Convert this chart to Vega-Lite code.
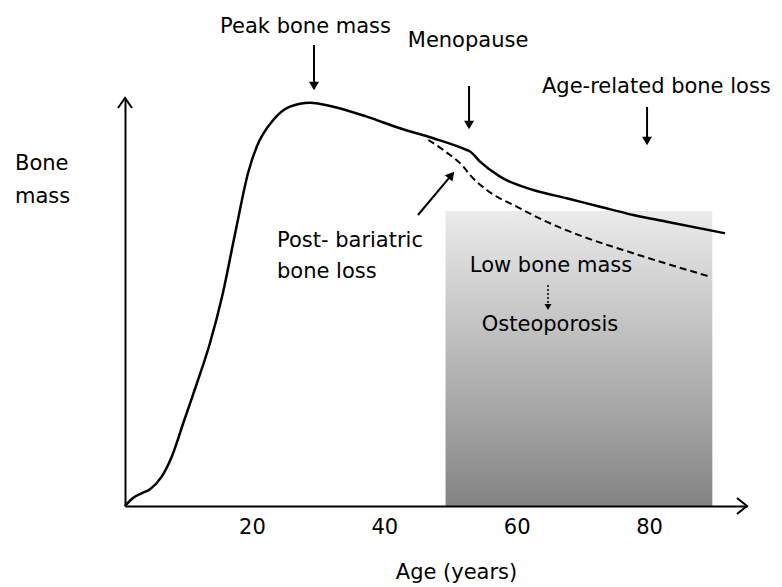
{
  "$schema": "https://vega.github.io/schema/vega-lite/v6.json",
  "width": 622,
  "height": 408,
  "autosize": "none",
  "padding": {"left": 125, "top": 98, "right": 35, "bottom": 81},
  "background": "white",
  "config": {"view": {"stroke": null}, "text": {"font": "DejaVu Sans", "fontSize": 21, "color": "black"}},
  "datasets": {
    "solid": [
      {"age": 0.83, "mass": 0}, {"age": 2.04, "mass": 2}, {"age": 3.35, "mass": 3.18}, {"age": 4.61, "mass": 4.18},
      {"age": 6.37, "mass": 7.33}, {"age": 7.89, "mass": 12.33}, {"age": 9.74, "mass": 21.25}, {"age": 11.71, "mass": 30.75},
      {"age": 13.67, "mass": 40.75}, {"age": 15.48, "mass": 52.25}, {"age": 17.45, "mass": 68}, {"age": 19.46, "mass": 83.5},
      {"age": 20.73, "mass": 89.83},
      {"age": 23.23, "mass": 96.5}, {"age": 25.75, "mass": 99.83}, {"age": 28.78, "mass": 100.83}, {"age": 32.3, "mass": 99.83},
      {"age": 37.34, "mass": 97.33}, {"age": 42.37, "mass": 94.43}, {"age": 47.4, "mass": 91.93}, {"age": 52.45, "mass": 89},
      {"age": 52.95, "mass": 88.63}, {"age": 54.46, "mass": 86.08}, {"age": 57.48, "mass": 82.33}, {"age": 62.51, "mass": 79},
      {"age": 67.55, "mass": 76.93}, {"age": 72.58, "mass": 74.83}, {"age": 77.61, "mass": 72.75}, {"age": 82.66, "mass": 71.08},
      {"age": 91.47, "mass": 68.18}
    ],
    "dashed": [
      {"age": 46.65, "mass": 91.5}, {"age": 49.32, "mass": 88.5}, {"age": 51.94, "mass": 84.83}, {"age": 52.95, "mass": 82.75},
      {"age": 55.47, "mass": 79}, {"age": 60.0, "mass": 74.83}, {"age": 65.03, "mass": 70.68}, {"age": 70.06, "mass": 67.33},
      {"age": 77.61, "mass": 63.18}, {"age": 89.19, "mass": 57.33}
    ],
    "box": [{"a0": 49.25, "a1": 89.55, "m0": 0, "m1": 73.75}],
    "downArrows": [
      {"age": 29.38, "from": 115.25, "to": 105},
      {"age": 52.8, "from": 105, "to": 95.25},
      {"age": 79.69, "from": 99.75, "to": 91.25}
    ],
    "diagArrow": [{"a0": 45.09, "m0": 72.75, "a1": 50.14, "m1": 82.73}],
    "dotArrow": [{"age": 64.73, "from": 55.25, "to": 49.75}],
    "centerText": [
      {"label": "Peak bone mass", "age": 28.1, "mass": 118.25},
      {"label": "Menopause", "age": 52.65, "mass": 114.75},
      {"label": "Age-related bone loss", "age": 81.1, "mass": 103.25},
      {"label": "Low bone mass", "age": 65.18, "mass": 58.5},
      {"label": "Osteoporosis", "age": 65.03, "mass": 43.75}
    ],
    "leftText": [
      {"label": "Bone", "age": -15.79, "mass": 84},
      {"label": "mass", "age": -15.79, "mass": 75.75},
      {"label": "Post- bariatric", "age": 23.79, "mass": 64.75},
      {"label": "bone loss", "age": 23.79, "mass": 57}
    ],
    "xTip": [{"age": 94.79, "mass": 0}],
    "yTip": [{"age": 0.83, "mass": 102}]
  },
  "layer": [
    {
      "data": {"name": "box"},
      "mark": {"type": "rect", "fill": {"gradient": "linear", "x1": 0, "y1": 0, "x2": 0, "y2": 1, "stops": [{"offset": 0, "color": "#ebebeb"}, {"offset": 1, "color": "#848484"}]}},
      "encoding": {
        "x": {"field": "a0", "type": "quantitative", "scale": {"domain": [0.83, 94.79], "nice": false, "zero": false},
          "axis": {"values": [20, 40, 60, 80], "title": "Age (years)", "domain": true, "domainColor": "black", "domainWidth": 2,
            "ticks": false, "tickSize": 0, "grid": false, "labelFont": "DejaVu Sans", "labelFontSize": 21, "labelColor": "black",
            "labelPadding": 10, "titleFont": "DejaVu Sans", "titleFontSize": 21, "titleFontWeight": "normal", "titleColor": "black",
            "titleX": 331, "titleY": 72, "titleBaseline": "alphabetic", "titleAnchor": "start", "titleAlign": "center", "zindex": 1}},
        "x2": {"field": "a1"},
        "y": {"field": "m0", "type": "quantitative", "scale": {"domain": [0, 102], "nice": false, "zero": false},
          "axis": {"title": null, "labels": false, "ticks": false, "grid": false, "domain": true, "domainColor": "black", "domainWidth": 2, "zindex": 1}},
        "y2": {"field": "m1"}
      }
    },
    {
      "data": {"name": "solid"},
      "mark": {"type": "line", "color": "black", "strokeWidth": 2.5, "interpolate": "monotone"},
      "encoding": {"x": {"field": "age", "type": "quantitative"}, "y": {"field": "mass", "type": "quantitative"}}
    },
    {
      "data": {"name": "dashed"},
      "mark": {"type": "line", "color": "black", "strokeWidth": 2, "strokeDash": [7, 4], "interpolate": "monotone"},
      "encoding": {"x": {"field": "age", "type": "quantitative"}, "y": {"field": "mass", "type": "quantitative"}}
    },
    {
      "data": {"name": "downArrows"},
      "mark": {"type": "rule", "color": "black", "strokeWidth": 2},
      "encoding": {"x": {"field": "age", "type": "quantitative"}, "y": {"field": "from", "type": "quantitative"}, "y2": {"field": "to"}}
    },
    {
      "data": {"name": "downArrows"},
      "mark": {"type": "point", "shape": "triangle-down", "filled": true, "color": "black", "size": 100, "opacity": 1},
      "encoding": {"x": {"field": "age", "type": "quantitative"}, "y": {"field": "to", "type": "quantitative"}}
    },
    {
      "data": {"name": "diagArrow"},
      "mark": {"type": "rule", "color": "black", "strokeWidth": 2},
      "encoding": {"x": {"field": "a0", "type": "quantitative"}, "y": {"field": "m0", "type": "quantitative"}, "x2": {"field": "a1"}, "y2": {"field": "m1"}}
    },
    {
      "data": {"name": "diagArrow"},
      "mark": {"type": "point", "shape": "triangle-up", "filled": true, "color": "black", "size": 100, "opacity": 1, "angle": 40},
      "encoding": {"x": {"field": "a1", "type": "quantitative"}, "y": {"field": "m1", "type": "quantitative"}}
    },
    {
      "data": {"name": "dotArrow"},
      "mark": {"type": "rule", "color": "black", "strokeWidth": 1.5, "strokeDash": [2, 2]},
      "encoding": {"x": {"field": "age", "type": "quantitative"}, "y": {"field": "from", "type": "quantitative"}, "y2": {"field": "to"}}
    },
    {
      "data": {"name": "dotArrow"},
      "mark": {"type": "point", "shape": "triangle-down", "filled": true, "color": "black", "size": 50, "opacity": 1},
      "encoding": {"x": {"field": "age", "type": "quantitative"}, "y": {"field": "to", "type": "quantitative"}}
    },
    {
      "data": {"name": "xTip"},
      "mark": {"type": "point", "shape": "M-1,-0.8L0,0L-1,0.8", "filled": false, "color": "black", "strokeWidth": 2, "size": 400, "opacity": 1},
      "encoding": {"x": {"field": "age", "type": "quantitative"}, "y": {"field": "mass", "type": "quantitative"}}
    },
    {
      "data": {"name": "yTip"},
      "mark": {"type": "point", "shape": "M-0.7,1L0,0L0.7,1", "filled": false, "color": "black", "strokeWidth": 2, "size": 400, "opacity": 1},
      "encoding": {"x": {"field": "age", "type": "quantitative"}, "y": {"field": "mass", "type": "quantitative"}}
    },
    {
      "data": {"name": "centerText"},
      "mark": {"type": "text", "align": "center", "baseline": "alphabetic"},
      "encoding": {"x": {"field": "age", "type": "quantitative"}, "y": {"field": "mass", "type": "quantitative"}, "text": {"field": "label"}}
    },
    {
      "data": {"name": "leftText"},
      "mark": {"type": "text", "align": "left", "baseline": "alphabetic"},
      "encoding": {"x": {"field": "age", "type": "quantitative"}, "y": {"field": "mass", "type": "quantitative"}, "text": {"field": "label"}}
    }
  ]
}
